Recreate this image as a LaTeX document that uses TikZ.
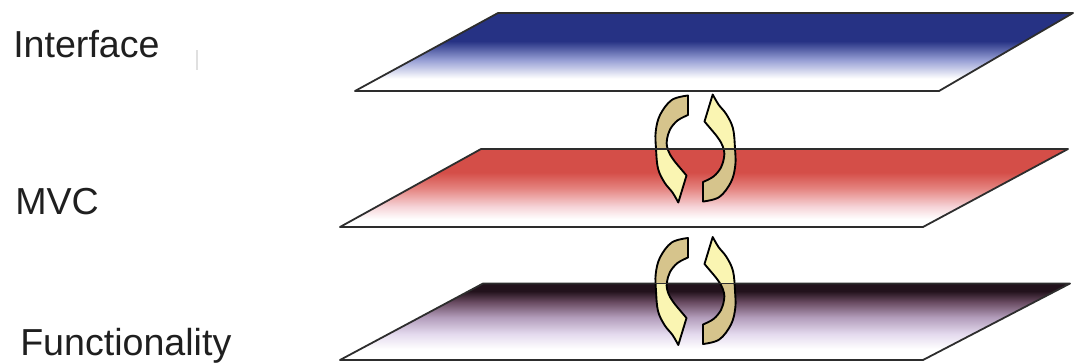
\documentclass[tikz,border=0pt]{standalone}
\usepackage{fontspec}
\setmainfont{Liberation Sans}

\definecolor{ifblue}{RGB}{38,50,132}
\definecolor{ifmid}{RGB}{150,158,212}
\definecolor{mvcred}{RGB}{212,78,72}
\definecolor{mvcmid}{RGB}{228,130,126}
\definecolor{mvcpink}{RGB}{246,212,216}
\definecolor{fndark}{RGB}{34,18,28}
\definecolor{fnmauve}{RGB}{104,74,96}
\definecolor{fnmid}{RGB}{178,156,186}
\definecolor{fnlav}{RGB}{228,218,238}
\definecolor{loopTan}{RGB}{214,196,140}
\definecolor{loopYel}{RGB}{250,245,178}
\definecolor{edgegray}{RGB}{45,45,45}

% bottom of a plane at 25bp, top at 75bp
\pgfdeclareverticalshading{ifshade}{100bp}{color(0bp)=(white); color(33bp)=(white); color(45bp)=(ifmid); color(57bp)=(ifblue); color(100bp)=(ifblue)}
\pgfdeclareverticalshading{mvcshade}{100bp}{color(0bp)=(white); color(30bp)=(white); color(38bp)=(mvcpink); color(50bp)=(mvcmid); color(60bp)=(mvcred); color(100bp)=(mvcred)}
\pgfdeclareverticalshading{fnshade}{100bp}{color(0bp)=(white); color(32bp)=(white); color(42bp)=(fnlav); color(53bp)=(fnmid); color(63bp)=(fnmauve); color(70bp)=(fndark); color(100bp)=(fndark)}

% one bent arrow, centred on its cycle, head at the bottom
\newcommand{\loopshape}{plot[smooth, tension=0.6] coordinates {(-7.5,53) (-23.8,48.5) (-35.5,33.5) (-39.8,16.8) (-39.5,0) (-37.5,-20) (-31,-34) (-23,-44) (-17.2,-54)}
  -- (-9,-27) -- (-20,-14)
  -- plot[smooth, tension=0.6] coordinates {(-20,-14) (-25.5,-6) (-28.5,2) (-28.5,9) (-25.5,19) (-18,28) (-7.5,33.5)} -- cycle}

\begin{document}
\begin{tikzpicture}[x=0.75pt, y=0.75pt, line join=round,
  plane/.style={draw=edgegray, line width=1.35pt},
  loopline/.style={draw=black, line width=1.4pt},
  tailfill/.style={fill=loopTan},
  headfill/.style={fill=loopYel},
  lbl/.style={anchor=base west, inner sep=0pt, text=black!88, font=\fontsize{28.2}{33}\selectfont}]
	\useasboundingbox (0,0) rectangle (1074,362);
	
	% Ebenen
	\shadedraw[plane, shading=ifshade] (355,271) -- (939,271) -- (1073,349) -- (498,349) -- cycle;
	\shadedraw[plane, shading=mvcshade] (340,135) -- (923,135) -- (1068,213) -- (481,213) -- cycle;
	\shadedraw[plane, shading=fnshade] (340,2) -- (923,2) -- (1070,78.5) -- (483,78.5) -- cycle;
	
	% Pfeilkreise zwischen den Ebenen
	\foreach \cy/\sp in {213.5/0, 71/7.5} {
		\begin{scope}[shift={(695.5,\cy)}]
			\begin{scope} \clip (-50,\sp) rectangle (50,70); \fill[tailfill] \loopshape; \end{scope}
			\begin{scope} \clip (-50,\sp) rectangle (50,-70); \fill[headfill] \loopshape; \end{scope}
			\draw[loopline] \loopshape;
			\begin{scope}[rotate=180]
				\begin{scope} \clip (-50,-\sp) rectangle (50,70); \fill[tailfill] \loopshape; \end{scope}
				\begin{scope} \clip (-50,-\sp) rectangle (50,-70); \fill[headfill] \loopshape; \end{scope}
				\draw[loopline] \loopshape;
			\end{scope}
		\end{scope}
	}
	
	% Oberkanten liegen vor den Pfeilen
	\draw[plane] (481,213) -- (1068,213);
	\draw[plane] (483,78.5) -- (1070,78.5);
	
	% Beschriftung
	\node[lbl] (interface) at (13,305) {Interface};
	\node[lbl] (mvc) at (15,148) {MVC};
	\node[lbl] (functionality) at (20,7) {Functionality};
	
	% feiner Strich
	\draw[black!12, line width=0.8pt] (197,312) -- (197,292);
\end{tikzpicture}
\end{document}
